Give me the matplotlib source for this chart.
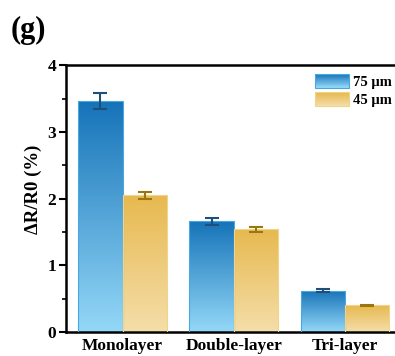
"""Grouped bar chart of resistance change for three layer structures"""

import numpy as np
import matplotlib

matplotlib.use("Agg")
import matplotlib.pyplot as plt
from matplotlib.colors import LinearSegmentedColormap
from matplotlib.legend_handler import HandlerBase
from matplotlib.patches import Rectangle
from matplotlib.ticker import MultipleLocator

plt.rcParams["font.family"] = ["Liberation Serif", "DejaVu Serif"]
plt.rcParams["font.weight"] = "bold"

layers = ["Monolayer", "Double-layer", "Tri-layer"]
series_names = ["75 µm", "45 µm"]
values_75 = [3.46, 1.66, 0.62]
errors_75 = [0.12, 0.05, 0.02]
values_45 = [2.05, 1.54, 0.40]
errors_45 = [0.055, 0.04, 0.012]

BLUE = ("#1673b8", "#94d8f8")  # top, bottom
YELLOW = ("#e7b94f", "#f5deaa")
BLUE_EDGE = "#4aa8e0"
YELLOW_EDGE = "#f0d48a"
BLUE_ERR = "#1d4f7a"
YELLOW_ERR = "#9c7410"


def gradient_bars(ax, x, heights, width, colors, edge):
    cmap = LinearSegmentedColormap.from_list("g", [colors[1], colors[0]])
    grad = np.linspace(0, 1, 256).reshape(-1, 1)
    bars = ax.bar(x, heights, width, facecolor="none", edgecolor=edge,
                  linewidth=0.8, zorder=3)
    for bar in bars:
        x0, y0 = bar.get_x(), bar.get_y()
        w, h = bar.get_width(), bar.get_height()
        img = ax.imshow(grad, cmap=cmap, aspect="auto", origin="lower",
                        extent=(x0, x0 + w, y0, y0 + h), zorder=2)
        img.set_clip_path(bar)
    return bars


class GradientHandler(HandlerBase):
    def __init__(self, colors, edge, n=30):
        super().__init__()
        self.colors = colors
        self.edge = edge
        self.n = n

    def create_artists(self, legend, orig_handle, xdescent, ydescent,
                       width, height, fontsize, trans):
        cmap = LinearSegmentedColormap.from_list("g", [self.colors[1], self.colors[0]])
        artists = []
        step = height / self.n
        for i in range(self.n):
            r = Rectangle((-xdescent, -ydescent + i * step), width, step * 1.05,
                          facecolor=cmap(i / (self.n - 1)), edgecolor="none",
                          transform=trans)
            artists.append(r)
        artists.append(Rectangle((-xdescent, -ydescent), width, height,
                                 facecolor="none", edgecolor=self.edge,
                                 linewidth=0.8, transform=trans))
        return artists


fig = plt.figure(figsize=(3.95, 3.56), dpi=100)
ax = fig.add_axes([0.167, 0.067, 0.85, 0.75])

x = np.arange(len(layers))
w = 0.4
gradient_bars(ax, x - w / 2, values_75, w, BLUE, BLUE_EDGE)
gradient_bars(ax, x + w / 2, values_45, w, YELLOW, YELLOW_EDGE)
ax.errorbar(x - w / 2, values_75, yerr=errors_75, fmt="none", ecolor=BLUE_ERR,
            elinewidth=1.5, capsize=5, capthick=1.5, zorder=4)
ax.errorbar(x + w / 2, values_45, yerr=errors_45, fmt="none", ecolor=YELLOW_ERR,
            elinewidth=1.5, capsize=5, capthick=1.5, zorder=4)

ax.set_xlim(-0.51, 2.51)
ax.set_ylim(0, 4)
ax.set_xticks(x)
ax.set_xticklabels(layers, fontsize=12.5, fontweight="bold")
ax.tick_params(axis="x", length=0, pad=4)
ax.yaxis.set_major_locator(MultipleLocator(1))
ax.yaxis.set_minor_locator(MultipleLocator(0.5))
ax.tick_params(axis="y", which="major", direction="out", length=5, width=1.5,
               labelsize=12.5, pad=2)
ax.tick_params(axis="y", which="minor", direction="out", length=3, width=1.2)
for side in ("left", "bottom", "top"):
    ax.spines[side].set_linewidth(1.8)
ax.spines["right"].set_visible(False)

ax.set_ylabel("ΔR/R0 (%)", fontsize=13.5, fontweight="bold")
ax.yaxis.set_label_coords(-0.07, 0.535)

h1 = Rectangle((0, 0), 1, 1)
h2 = Rectangle((0, 0), 1, 1)
ax.legend([h1, h2], series_names, loc="upper right",
          bbox_to_anchor=(0.993, 0.995), frameon=False,
          prop={"size": 10.5, "weight": "bold"},
          handlelength=2.3, handleheight=1.1, handletextpad=0.3,
          labelspacing=0.25, borderaxespad=0.1,
          handler_map={h1: GradientHandler(BLUE, BLUE_EDGE),
                       h2: GradientHandler(YELLOW, YELLOW_EDGE)})

fig.text(0.028, 0.893, "(g)", fontsize=22, fontweight="bold", va="baseline")

fig.savefig("out.png", dpi=100)
